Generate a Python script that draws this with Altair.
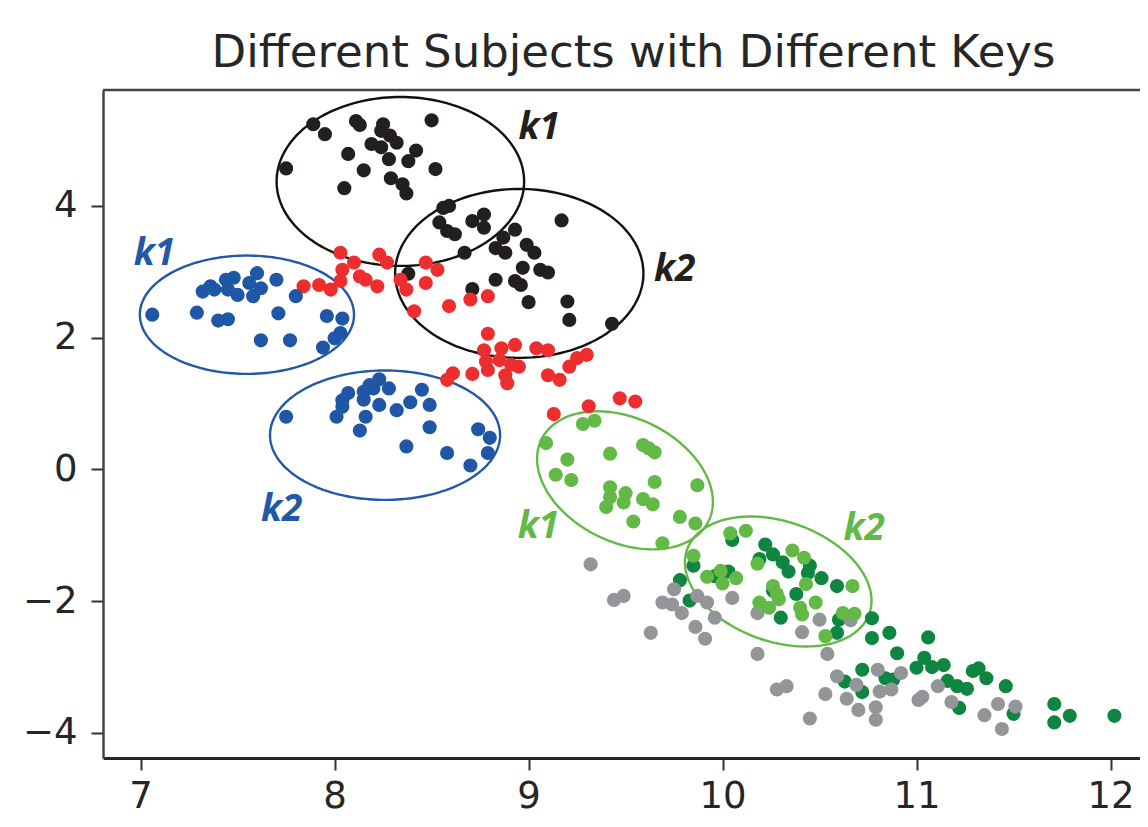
import altair as alt
import pandas as pd
import numpy as np

# ---------------- data ----------------
black_k1_x = [7.89, 7.95, 8.11, 8.13, 8.25, 8.24, 8.285, 8.19, 8.24, 8.32, 8.50, 8.07, 8.28, 8.38, 8.42, 8.52, 7.75, 8.15, 8.29, 8.35, 8.37, 8.05]
black_k1_y = [5.24, 5.09, 5.29, 5.23, 5.24, 5.14, 5.07, 4.94, 4.89, 4.96, 5.30, 4.79, 4.71, 4.68, 4.84, 4.56, 4.57, 4.54, 4.42, 4.33, 4.19, 4.27]

black_k2_x = [8.56, 8.59, 8.54, 8.58, 8.62, 8.71, 8.77, 8.77, 8.67, 8.83, 8.87, 8.88, 8.93, 8.99, 9.03, 9.17, 8.97, 9.06, 9.10, 8.83, 8.93, 8.96, 8.71, 8.38, 9.00, 9.20, 9.21, 9.43]
black_k2_y = [3.97, 4.00, 3.75, 3.62, 3.57, 3.77, 3.87, 3.67, 3.29, 3.36, 3.52, 3.29, 3.64, 3.41, 3.29, 3.78, 3.06, 3.03, 2.99, 2.88, 2.86, 2.80, 2.74, 2.97, 2.54, 2.55, 2.27, 2.21]

red_x = [8.03, 8.10, 8.04, 8.23, 8.27, 8.13, 8.16, 8.22, 8.03, 7.98, 7.92, 7.84, 8.34, 8.37, 8.47, 8.53, 8.47, 8.41, 8.59, 8.70, 8.79, 8.79, 8.77, 8.86, 8.93, 9.04, 9.10, 8.78, 8.85, 8.91, 8.95, 8.79, 8.88, 8.89, 8.61, 8.58, 8.71, 9.10, 9.16, 9.21, 9.30, 9.25, 9.31, 9.13, 9.47, 9.55]
red_y = [3.29, 3.14, 3.03, 3.26, 3.14, 2.93, 2.88, 2.78, 2.86, 2.73, 2.80, 2.78, 2.88, 2.73, 3.14, 3.03, 2.83, 2.40, 2.48, 2.58, 2.63, 2.06, 1.81, 1.84, 1.89, 1.84, 1.81, 1.64, 1.66, 1.59, 1.56, 1.51, 1.43, 1.31, 1.46, 1.36, 1.45, 1.43, 1.36, 1.56, 1.74, 1.69, 0.96, 0.84, 1.08, 1.03]

blue_k1_x = [7.60, 7.48, 7.44, 7.36, 7.32, 7.38, 7.45, 7.50, 7.56, 7.62, 7.58, 7.70, 7.80, 7.06, 7.29, 7.40, 7.45, 7.71, 7.96, 8.04, 7.62, 7.77, 8.03, 8.00, 7.94]
blue_k1_y = [2.98, 2.91, 2.88, 2.78, 2.70, 2.73, 2.73, 2.65, 2.83, 2.75, 2.63, 2.88, 2.63, 2.35, 2.38, 2.26, 2.28, 2.37, 2.33, 2.29, 1.96, 1.96, 2.07, 1.99, 1.85]

blue_k2_x = [7.75, 8.07, 8.04, 8.04, 8.01, 8.15, 8.18, 8.23, 8.20, 8.28, 8.15, 8.23, 8.16, 8.13, 8.32, 8.39, 8.45, 8.49, 8.49, 8.37, 8.58, 8.74, 8.80, 8.79, 8.70]
blue_k2_y = [0.80, 1.16, 1.05, 0.95, 0.80, 1.18, 1.28, 1.37, 1.23, 1.23, 1.06, 0.98, 0.80, 0.59, 0.90, 1.02, 1.21, 0.98, 0.64, 0.35, 0.25, 0.61, 0.48, 0.25, 0.06]

dgreen_x = [10.05, 10.22, 10.19, 10.26, 10.31, 10.34, 10.45, 10.51, 10.59, 10.44, 9.85, 9.78, 9.96, 10.03, 9.83, 10.26, 10.38, 10.30, 10.60, 10.59, 10.77, 10.86, 10.77, 10.90, 10.72, 10.84, 10.88, 10.63, 10.72, 11.00, 11.06, 11.04, 11.08, 11.14, 11.16, 11.21, 11.26, 11.22, 11.29, 11.32, 11.36, 11.46, 11.50, 11.71, 11.71, 11.79, 12.02]
dgreen_y = [-1.07, -1.14, -1.36, -1.29, -1.41, -1.55, -1.46, -1.65, -1.77, -1.57, -1.46, -1.68, -1.62, -1.55, -1.99, -1.84, -1.89, -2.25, -2.28, -2.48, -2.26, -2.48, -2.56, -2.79, -3.04, -3.17, -3.19, -3.22, -3.38, -3.01, -2.55, -2.86, -3.00, -2.97, -3.21, -3.29, -3.33, -3.62, -3.06, -3.02, -3.17, -3.29, -3.71, -3.56, -3.84, -3.74, -3.74]

gray_x = [9.32, 9.44, 9.49, 9.63, 9.69, 9.74, 9.79, 9.75, 9.87, 9.92, 9.96, 10.05, 9.86, 9.91, 10.18, 10.18, 10.41, 10.50, 10.54, 10.66, 10.28, 10.33, 10.45, 10.53, 10.59, 10.64, 10.69, 10.70, 10.79, 10.79, 10.80, 10.81, 10.87, 10.92, 11.01, 11.03, 11.11, 11.18, 11.35, 11.42, 11.51, 11.44]
gray_y = [-1.44, -1.98, -1.92, -2.48, -2.02, -2.05, -2.18, -1.82, -1.92, -2.02, -2.25, -1.95, -2.39, -2.57, -2.18, -2.80, -2.47, -2.28, -2.80, -2.29, -3.34, -3.29, -3.78, -3.41, -3.14, -3.48, -3.27, -3.65, -3.80, -3.61, -3.04, -3.37, -3.34, -3.09, -3.50, -3.45, -3.29, -3.53, -3.73, -3.56, -3.60, -3.94]

lgreen_k1_x = [9.28, 9.34, 9.09, 9.20, 9.14, 9.22, 9.42, 9.59, 9.65, 9.62, 9.65, 9.87, 9.42, 9.50, 9.42, 9.40, 9.49, 9.59, 9.64, 9.54, 9.78, 9.86, 9.69]
lgreen_k1_y = [0.69, 0.74, 0.40, 0.15, -0.08, -0.16, 0.24, 0.37, 0.26, 0.32, -0.19, -0.24, -0.27, -0.36, -0.42, -0.57, -0.50, -0.45, -0.53, -0.79, -0.72, -0.82, -1.12]

lgreen_k2_x = [10.04, 10.12, 9.85, 9.92, 9.99, 10.00, 10.07, 10.36, 10.42, 10.43, 10.26, 10.28, 10.19, 10.24, 10.29, 10.40, 10.41, 10.48, 10.67, 10.62, 10.68, 10.53, 10.18]
lgreen_k2_y = [-0.97, -0.93, -1.31, -1.63, -1.54, -1.73, -1.65, -1.23, -1.34, -1.74, -1.77, -1.89, -2.02, -2.10, -1.97, -2.10, -2.20, -2.02, -1.77, -2.18, -2.19, -2.53, -1.43]

# draw order and colours of the point groups
groups = [
    (black_k1_x, black_k1_y, "#231f20"),
    (black_k2_x, black_k2_y, "#231f20"),
    (red_x, red_y, "#ee2e2e"),
    (blue_k1_x, blue_k1_y, "#1f56a5"),
    (blue_k2_x, blue_k2_y, "#1f56a5"),
    (dgreen_x, dgreen_y, "#0e8540"),
    (gray_x, gray_y, "#939598"),
    (lgreen_k1_x, lgreen_k1_y, "#62b946"),
    (lgreen_k2_x, lgreen_k2_y, "#62b946"),
]

# ellipses: centre, first and second semi-axis vectors (data units), colour
ell_cx = [8.339, 8.952, 7.548, 8.260, 9.497, 10.287]
ell_cy = [4.372, 2.976, 2.349, 0.520, -0.165, -1.701]
ell_ux = [0.638, 0.640, 0.552, 0.593, 0.431, 0.470]
ell_uy = [0.0, 0.0, 0.0, 0.0, -0.619, -0.483]
ell_vx = [0.0, 0.0, 0.0, 0.0, -0.140, -0.1015]
ell_vy = [1.282, 1.282, 0.898, 0.982, -0.845, -0.860]
ell_col = ["#111111", "#111111", "#2358a6", "#2358a6", "#62b946", "#62b946"]

# key labels
lab_text = ["k1", "k2", "k1", "k2", "k1", "k2"]
lab_x = [9.055, 9.753, 7.071, 7.727, 9.051, 10.73]
lab_y = [5.015, 2.855, 3.11, -0.777, -1.041, -1.072]
lab_col = ["#231f20", "#231f20", "#2358a6", "#2358a6", "#62b946", "#62b946"]

x_ticks = [7, 8, 9, 10, 11, 12]
y_ticks = [-4, -2, 0, 2, 4]
title_text = "Different Subjects with Different Keys"

# ---------------- tables ----------------
rows = []
k = 0
for gx, gy, col in groups:
    for a, b in zip(gx, gy):
        rows.append({"x": a, "y": b, "c": col, "o": k})
        k += 1
pts = pd.DataFrame(rows)

t = np.linspace(0, 2 * np.pi, 181)
erows = []
for i in range(len(ell_cx)):
    for j, tt in enumerate(t):
        erows.append({
            "x": ell_cx[i] + ell_ux[i] * np.cos(tt) + ell_vx[i] * np.sin(tt),
            "y": ell_cy[i] + ell_uy[i] * np.cos(tt) + ell_vy[i] * np.sin(tt),
            "e": i, "j": j, "c": ell_col[i],
        })
ell = pd.DataFrame(erows)

labs = pd.DataFrame({"x": lab_x, "y": lab_y, "t": lab_text, "c": lab_col})

W, H = 1037, 668
xs = alt.Scale(domain=[6.806, 12.152], nice=False, zero=False)
ys = alt.Scale(domain=[-4.38, 5.76], nice=False, zero=False)

xax = alt.Axis(values=x_ticks, title=None, grid=False, labelFontSize=37, labelFont="DejaVu Sans",
               labelColor="#262626", tickSize=12, tickWidth=2, tickColor="#333333",
               domainColor="#262626", domainWidth=3, labelPadding=8, format="d")
yax = alt.Axis(values=y_ticks, title=None, grid=False, labelFontSize=37, labelFont="DejaVu Sans",
               labelColor="#262626", tickSize=12, tickWidth=2, tickColor="#333333",
               domainColor="#444444", domainWidth=2.5, labelPadding=14, format="d")

ellipses = alt.Chart(ell).mark_line(strokeWidth=2.4).encode(
    x=alt.X("x:Q", scale=xs, axis=xax),
    y=alt.Y("y:Q", scale=ys, axis=yax),
    detail="e:N",
    order="j:Q",
    color=alt.Color("c:N", scale=None),
)

points = alt.Chart(pts).mark_circle(size=200, opacity=1).encode(
    x=alt.X("x:Q", scale=xs),
    y=alt.Y("y:Q", scale=ys),
    color=alt.Color("c:N", scale=None),
    order="o:Q",
)

labels = alt.Chart(labs).mark_text(
    font="Open Sans", fontSize=37, fontWeight="bold", fontStyle="italic",
    align="center", baseline="alphabetic"
).encode(
    x=alt.X("x:Q", scale=xs),
    y=alt.Y("y:Q", scale=ys),
    text="t:N",
    color=alt.Color("c:N", scale=None),
)

top_spine = alt.Chart(pd.DataFrame({"a": [0]})).mark_rule(color="#444444", strokeWidth=2.5).encode(
    x=alt.value(0), x2=alt.value(W), y=alt.value(0)
)

title = alt.Chart(pd.DataFrame({"t": [title_text]})).mark_text(
    font="DejaVu Sans", fontSize=45, color="#262626", align="center", baseline="alphabetic"
).encode(text="t:N", x=alt.value(530.5), y=alt.value(-23))

chart = alt.layer(ellipses, points, labels, top_spine, title).properties(
    width=W, height=H,
    autosize=alt.AutoSizeParams(type="none"),
    padding={"left": 95, "top": 82, "right": 0, "bottom": 61},
).configure_view(stroke=None)

chart.save("out.html", embed_options={"renderer": "svg", "actions": False})
